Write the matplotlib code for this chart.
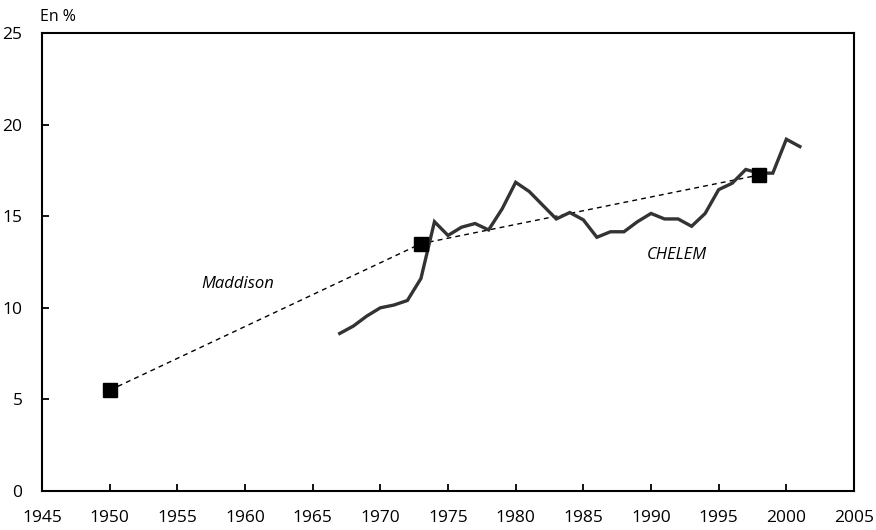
import numpy as np
import matplotlib
matplotlib.use('Agg')
import matplotlib.pyplot as plt

### Data
chelem_years = np.arange(1967, 2002)
chelem_share = [8.6, 9.0, 9.55, 10.0, 10.15, 10.4, 11.6, 14.7, 13.95, 14.4,
                14.6, 14.25, 15.4, 16.85, 16.35, 15.6, 14.85, 15.2, 14.8, 13.85,
                14.15, 14.15, 14.7, 15.15, 14.85, 14.85, 14.45, 15.15, 16.45,
                16.8, 17.55, 17.35, 17.35, 19.2, 18.8]

maddison_years = [1950, 1973, 1998]
maddison_share = [5.5, 13.5, 17.25]

xticks = np.arange(1945, 2006, 5)
yticks = np.arange(0, 26, 5)

### Plot
plt.rcParams['font.family'] = ['Open Sans', 'DejaVu Sans']

fig = plt.figure(figsize=(8.76, 5.30), dpi=100)
ax = fig.add_axes([42/876, 1-491/530, 812/876, 458/530])

ax.plot(maddison_years, maddison_share, color='black', linestyle='--',
        dashes=(3.5, 3), linewidth=1.0, zorder=2)
ax.plot(chelem_years, chelem_share, color='#333333', linewidth=2.4,
        solid_joinstyle='miter', zorder=3)
ax.plot(maddison_years, maddison_share, linestyle='none', marker='s',
        markersize=10, color='black', zorder=4)

ax.text(1959.5, 11.3, 'Maddison', style='italic', fontsize=12,
        ha='center', va='center')
ax.text(1991.9, 12.9, 'CHELEM', style='italic', fontsize=12,
        ha='center', va='center')

ax.set_xlim(1945, 2005)
ax.set_ylim(0, 25)
ax.set_xticks(xticks)
ax.set_yticks(yticks)
ax.tick_params(axis='both', direction='in', length=5, width=1.3,
               labelsize=12.5)
ax.tick_params(axis='x', pad=14)
ax.tick_params(axis='y', pad=14)
for side in ['left', 'bottom', 'right', 'top']:
    ax.spines[side].set_linewidth(1.5)

fig.text(40/876, 1-17/530, 'En %', fontsize=11.5, ha='left', va='center')

plt.savefig('out.png', dpi=100)
